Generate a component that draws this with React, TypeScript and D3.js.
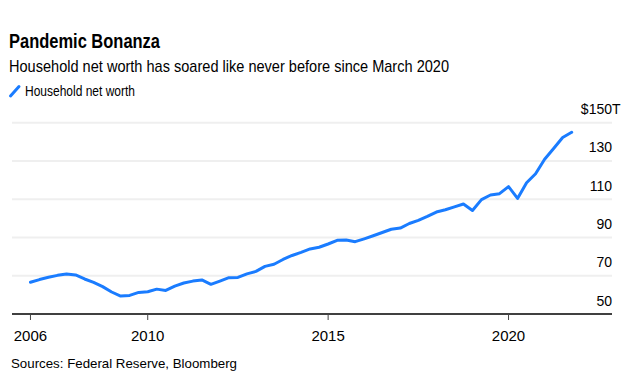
import React from "react";
import * as d3 from "d3";

const title = "Pandemic Bonanza";
const subtitle = "Household net worth has soared like never before since March 2020";
const seriesName = "Household net worth";
const source = "Sources: Federal Reserve, Bloomberg";

// Quarterly, first observation Q3 2006 (end of quarter ~ 2006.75)
const firstQuarter = 2006.75;
const netWorth = [
  66.6, 68.0, 69.2, 70.2, 70.9, 70.4, 68.3, 66.5, 64.3, 61.5,
  59.4, 59.7, 61.3, 61.6, 63.0, 62.3, 64.6, 66.2, 67.2, 67.8,
  65.5, 67.2, 69.0, 69.1, 71.0, 72.3, 74.9, 76.0, 78.5, 80.6,
  82.2, 84.0, 84.9, 86.6, 88.5, 88.7, 87.8, 89.3, 90.9, 92.6,
  94.3, 94.9, 97.3, 98.9, 101.0, 103.3, 104.5, 106.0, 107.5, 104.1,
  109.8, 112.2, 112.9, 116.6, 110.4, 118.6, 123.3, 130.9, 136.5, 142.3,
  145.0,
];

const yTicks = [50, 70, 90, 110, 130, 150];
const xTickValues = [2006.75, 2010, 2015, 2020];
const xTickLabels = ["2006", "2010", "2015", "2020"];

const FONT = "'Liberation Sans', Arial, sans-serif";

export default function App() {
  const x = d3.scaleLinear().domain([2006, 2022]).range([3.4, 580.7]);
  const y = d3.scaleLinear().domain([50, 150]).range([314, 122.7]);
  const left = 12;
  const right = 612;

  const data = netWorth.map((v, i) => ({ t: firstQuarter + i * 0.25, v }));
  const line = d3
    .line<{ t: number; v: number }>()
    .x((d) => x(d.t))
    .y((d) => y(d.v));

  return (
    <svg
      width={639}
      height={382}
      style={{ position: "absolute", left: 0, top: 0, background: "#fff" }}
      fontFamily={FONT}
    >
      <rect x={0} y={0} width={639} height={382} fill="#fff" />
      <text x={9} y={47.5} fontSize={20} fontWeight="bold" fill="#000" textLength={151} lengthAdjust="spacingAndGlyphs">
        {title}
      </text>
      <text x={9} y={71.5} fontSize={17} fill="#000" textLength={440} lengthAdjust="spacingAndGlyphs">
        {subtitle}
      </text>
      <line x1={10.5} y1={96} x2={19} y2={86.5} stroke="#1a7cff" strokeWidth={3} strokeLinecap="round" />
      <text x={25} y={95.5} fontSize={14.5} fill="#000" textLength={110} lengthAdjust="spacingAndGlyphs">
        {seriesName}
      </text>

      {yTicks.slice(1).map((t) => (
        <line key={"g" + t} x1={left} x2={right} y1={y(t)} y2={y(t)} stroke="#efefef" strokeWidth={2} />
      ))}
      {yTicks.map((t) =>
        t === 150 ? (
          <g key={"l" + t}>
            <text x={right} y={y(t) - 8.5} fontSize={14} textAnchor="end" fill="#000">
              {"$" + t}
            </text>
            <text x={right} y={y(t) - 8.5} fontSize={14} fill="#000">
              T
            </text>
          </g>
        ) : (
          <text key={"l" + t} x={right} y={y(t) - 8.5} fontSize={14} textAnchor="end" fill="#000">
            {t}
          </text>
        )
      )}

      <path d={line(data) || ""} fill="none" stroke="#1a7cff" strokeWidth={3} strokeLinejoin="round" strokeLinecap="round" />

      <line x1={left} x2={right} y1={314} y2={314} stroke="#000" strokeWidth={1.5} />
      {xTickValues.map((t, i) => (
        <g key={"x" + t}>
          <line x1={x(t)} x2={x(t)} y1={314} y2={320} stroke="#444" strokeWidth={1} />
          <text x={x(t)} y={340.5} fontSize={15} textAnchor="middle" fill="#000">
            {xTickLabels[i]}
          </text>
        </g>
      ))}

      <text x={11} y={368} fontSize={13} fill="#000" textLength={226} lengthAdjust="spacingAndGlyphs">
        {source}
      </text>
    </svg>
  );
}
